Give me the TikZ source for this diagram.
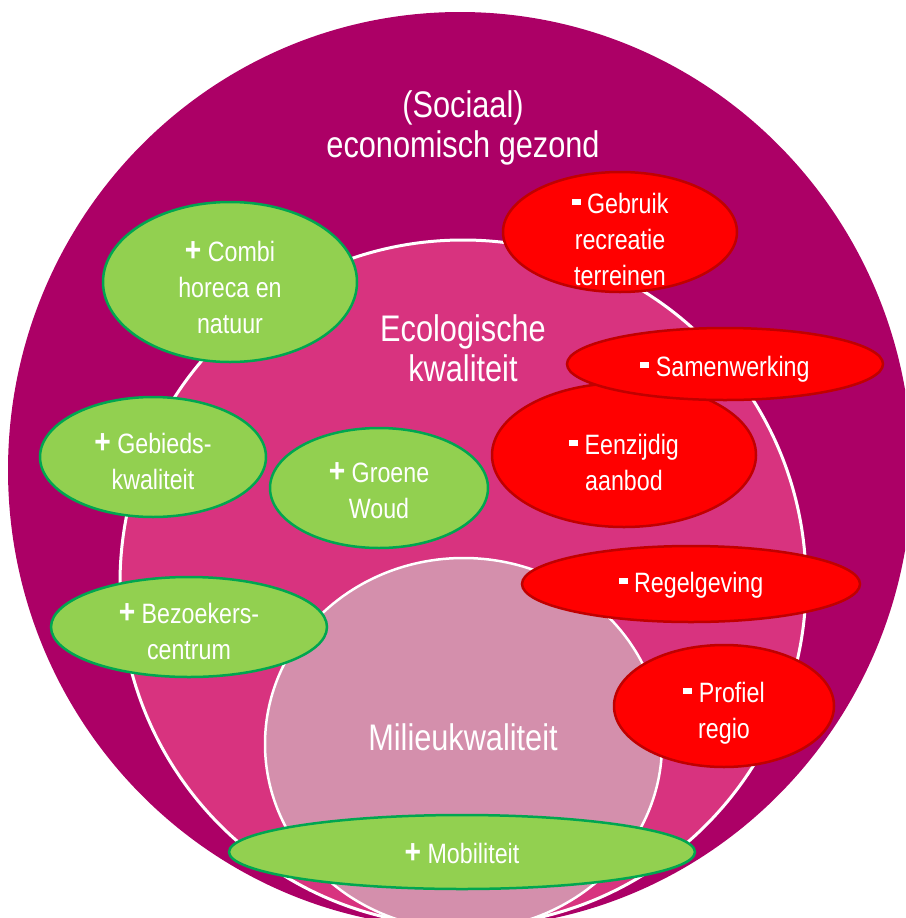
\documentclass[tikz,border=0pt]{standalone}
\usepackage{fontspec}
\setmainfont{Liberation Sans}[FakeStretch=0.83]
\usetikzlibrary{shapes.geometric}

\definecolor{outerring}{HTML}{AC0066}
\definecolor{midring}{HTML}{D8337F}
\definecolor{innerring}{HTML}{D48FAC}
\definecolor{plusfill}{HTML}{92D050}
\definecolor{plusline}{HTML}{00A650}
\definecolor{minfill}{HTML}{FF0000}
\definecolor{minline}{HTML}{C00000}

\tikzset{
	blob/.style={line width=2.5pt},
	plusblob/.style={blob, fill=plusfill, draw=plusline},
	minblob/.style={blob, fill=minfill, draw=minline},
	blobtext/.style={text=white, align=center, inner sep=0pt, font=\fontsize{28}{36}\selectfont},
	ringlabel/.style={text=white, align=center, inner sep=0pt, font=\fontsize{37}{40}\selectfont}
}
\newcommand{\pl}{{\fontsize{34}{36}\bfseries +}}
\newcommand{\mn}{\rule[8pt]{9pt}{6pt}}

\begin{document}
\begin{tikzpicture}[x=1pt,y=-1pt]
	\useasboundingbox (0,0) rectangle (905,918);
	\clip (0,0) rectangle (905,918);

	% three rings
	\fill[outerring] (460,470) ellipse (452 and 458);
	\fill[midring] (463,583) circle (343);
	\draw[white, line width=3pt] (463,583) circle (343);
	\draw[white, line width=2.5pt, fill=innerring] (463.5,744) ellipse (198.5 and 186);

	\node[ringlabel] (sociaal) at (463,128) {(Sociaal)\\economisch gezond};
	\node[ringlabel] (ecologisch) at (463,348) {Ecologische\\kwaliteit};
	\node[ringlabel] (milieu) at (463,737) {Milieukwaliteit};

	% plus side
	\draw[plusblob] (230,282) ellipse (127 and 80);
	\node[blobtext] (combi) at (230,287) {\pl{} Combi\\horeca en\\natuur};
	\draw[plusblob] (153,457) ellipse (113 and 60);
	\node[blobtext] (gebieds) at (153,461) {\pl{} Gebieds-\\kwaliteit};
	\draw[plusblob] (379,488) ellipse (109 and 60);
	\node[blobtext] (groene) at (379,491) {\pl{} Groene\\Woud};
	\draw[plusblob] (189,627) ellipse (138 and 50);
	\node[blobtext] (bezoekers) at (189,631) {\pl{} Bezoekers-\\centrum};
	\draw[plusblob] (462,852) ellipse (233 and 37);
	\node[blobtext] (mobiliteit) at (462,853) {\pl{} Mobiliteit};

	% minus side
	\draw[minblob] (620,232) ellipse (117 and 60);
	\node[blobtext] (gebruik) at (620,239) {\mn{} Gebruik\\recreatie\\terreinen};
	\draw[minblob] (624,455) ellipse (132 and 72);
	\node[blobtext] (eenzijdig) at (624,462) {\mn{} Eenzijdig\\aanbod};
	\draw[minblob] (725,364) ellipse (158 and 36);
	\node[blobtext] (samenwerking) at (725,369) {\mn{} Samenwerking};
	\draw[minblob] (691,584) ellipse (169 and 38);
	\node[blobtext] (regelgeving) at (691,585) {\mn{} Regelgeving};
	\draw[minblob] (724,706) ellipse (110 and 61);
	\node[blobtext] (profiel) at (724,713) {\mn{} Profiel\\regio};
\end{tikzpicture}
\end{document}
